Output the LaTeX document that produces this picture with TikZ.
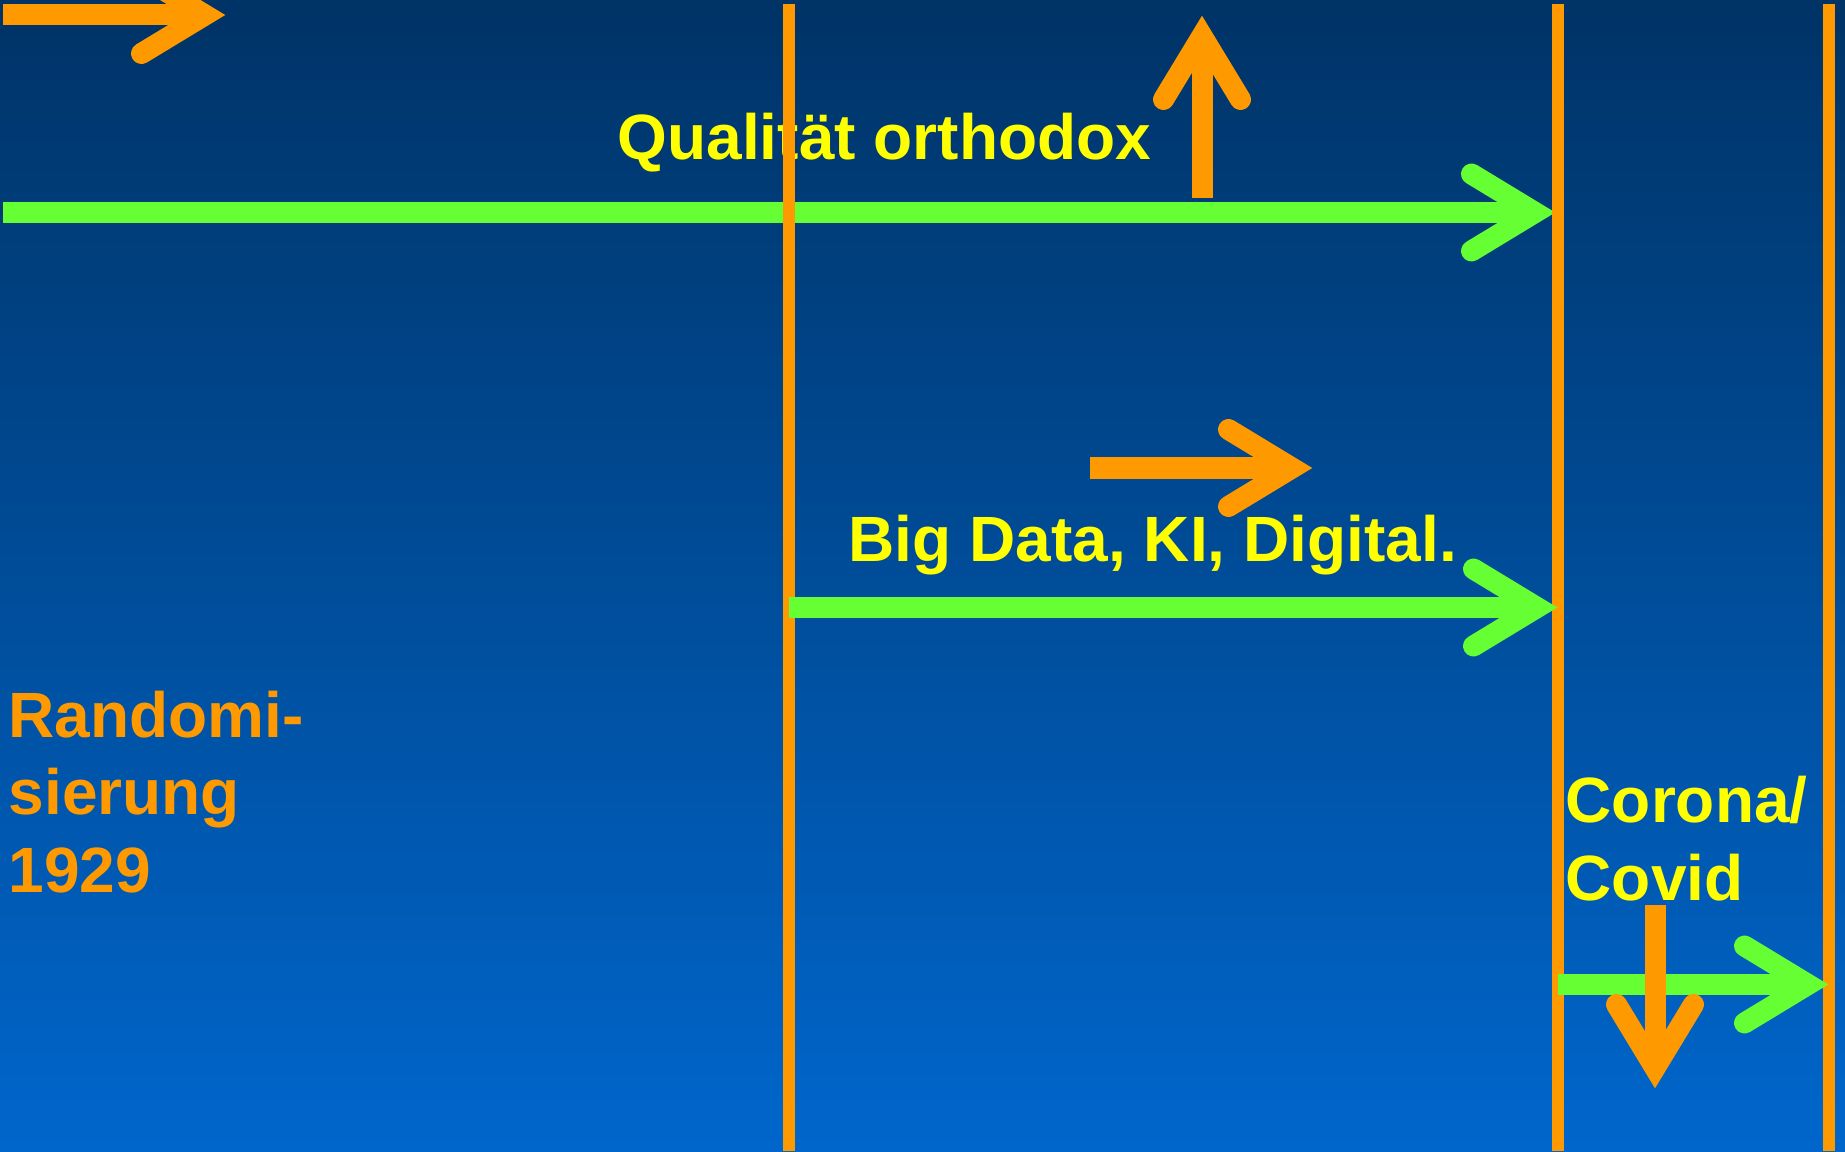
\documentclass[tikz,border=0pt]{standalone}
\usepackage{fontspec}
\setmainfont{Liberation Sans}
\usepackage{xcolor}
\usepackage{tikz}
\usetikzlibrary{decorations.markings}

\definecolor{bgtop}{HTML}{003366}
\definecolor{bgbottom}{HTML}{0066CC}
\definecolor{eraorange}{HTML}{FF9900}
\definecolor{eragreen}{HTML}{66FF33}
\definecolor{erayellow}{HTML}{FFFF00}

\begin{document}
\begin{tikzpicture}[
    x=0.01cm, y=-0.01cm,
    barbhead/.style={postaction={decorate, decoration={markings, mark=at position 1 with {
        \draw[draw=#1, line width=0.21cm, shorten >=0pt, line cap=round, line join=miter]
            (-83.5,38.5) -- (-20,0) -- (-83.5,-38.5);}}}},
    trend/.style={draw=eragreen, line width=0.21cm, shorten >=0.35cm, barbhead=eragreen},
    turn/.style={draw=eraorange, line width=0.21cm, shorten >=0.35cm, barbhead=eraorange},
    era/.style={draw=eraorange, line width=0.12cm},
    eratext/.style={anchor=base west, inner sep=0pt, align=left, font=\fontsize{18.2}{21.9}\selectfont\bfseries}
]
\useasboundingbox (0,0) rectangle (1845,1152);
\clip (0,0) rectangle (1845,1152);
\shade[top color=bgtop, bottom color=bgbottom] (0,0) rectangle (1845,1152);

% era boundaries
\coordinate (e1t) at (789,4);    \coordinate (e1b) at (789,1151);
\coordinate (e2t) at (1558,4);   \coordinate (e2b) at (1558,1151);
\coordinate (e3t) at (1829,4);   \coordinate (e3b) at (1829,1151);

% arrow ends
\coordinate (ra) at (3,15);      \coordinate (rb) at (225,15);
\coordinate (qa) at (3,212.5);   \coordinate (qb) at (1555,212.5);
\coordinate (ua) at (1202,198);  \coordinate (ub) at (1202,16);
\coordinate (ma) at (1090,468);  \coordinate (mb) at (1312,468);
\coordinate (da) at (789,607.5); \coordinate (db) at (1557,607.5);
\coordinate (ca) at (1558,984.5);\coordinate (cb) at (1828,984.5);
\coordinate (va) at (1655,905);  \coordinate (vb) at (1655,1088);

\draw[turn] (ra) -- (rb);
\draw[trend] (qa) -- (qb);

% last line sits on the base anchor
\node[eratext, text=erayellow] (qual) at (617,160) {Qualität orthodox};
\node[eratext, text=erayellow] (big) at (848,562) {Big Data, KI, Digital.};
\node[eratext, text=eraorange] (rand) at (8,892) {Randomi-\\sierung\\1929};
\node[eratext, text=erayellow] (covid) at (1565,900) {Corona/\\Covid};

\draw[era] (e1t) -- (e1b);
\draw[era] (e2t) -- (e2b);
\draw[era] (e3t) -- (e3b);

\draw[turn] (ua) -- (ub);
\draw[turn] (ma) -- (mb);
\draw[trend] (da) -- (db);
\draw[trend] (ca) -- (cb);
\draw[turn] (va) -- (vb);
\end{tikzpicture}
\end{document}
